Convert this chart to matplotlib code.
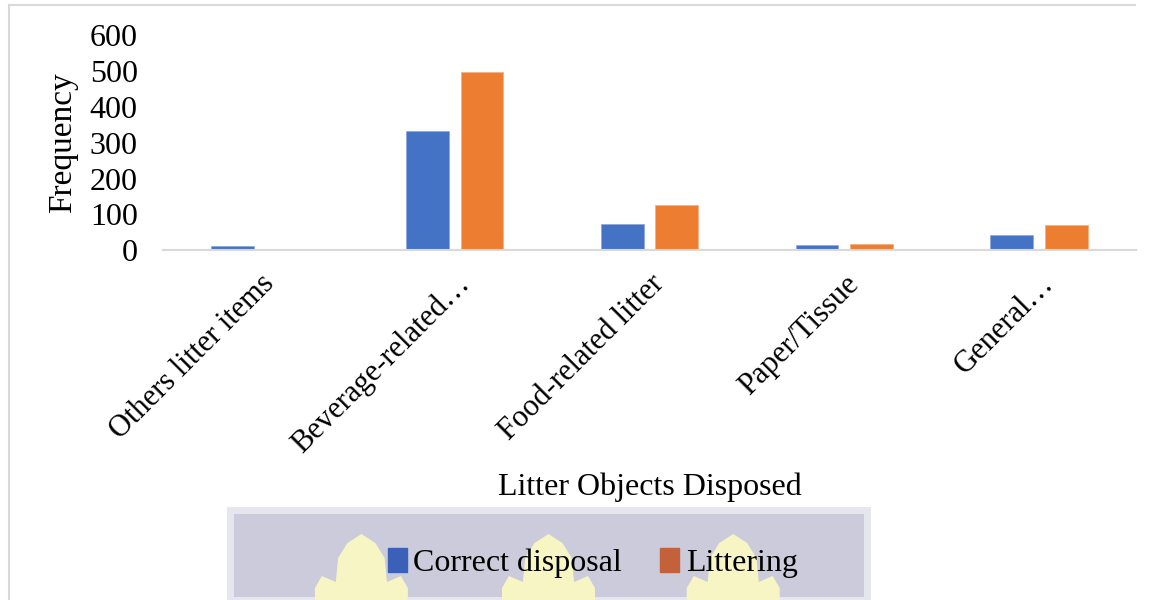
import matplotlib.pyplot as plt
import numpy as np
from matplotlib.patches import Rectangle, Polygon
from matplotlib.lines import Line2D

categories = ["Others litter items", "Beverage-related\u2026", "Food-related litter",
              "Paper/Tissue", "General\u2026"]
correct_disposal = [12, 333, 73, 15, 42]
littering = [3, 498, 125, 16, 70]

plt.rcParams['font.family'] = ['Liberation Serif', 'DejaVu Serif']

fig = plt.figure(figsize=(11.62, 6.0), dpi=100)
ax = fig.add_axes([0.140, 0.583, 0.838, 0.358])

x = np.arange(len(categories))
w = 0.22
ax.bar(x - 0.14, correct_disposal, w, color='#4472C4', edgecolor='#8faadc', linewidth=0.6)
ax.bar(x + 0.14, littering, w, color='#ED7D31', edgecolor='#f4b183', linewidth=0.6)

ax.set_xlim(-0.5, len(categories) - 0.5)
ax.set_ylim(0, 600)
ax.set_yticks(range(0, 601, 100))
ax.tick_params(axis='y', length=0, labelsize=23, pad=18)
ax.tick_params(axis='x', length=0, labelsize=22, pad=14)
ax.set_xticks(x)
ax.set_xticklabels(categories, rotation=45, ha='right', rotation_mode='anchor')
for s in ['top', 'right', 'left']:
    ax.spines[s].set_visible(False)
ax.spines['bottom'].set_color('#d9d9d9')
ax.spines['bottom'].set_linewidth(1.5)
ax.set_ylabel('Frequency', fontsize=24, labelpad=8)
fig.text(0.559, 0.188, 'Litter Objects Disposed', fontsize=23, ha='center', va='center')

# outer frame of the chart area
fig.add_artist(Line2D([0.008, 0.977], [0.992, 0.992], color='#d9d9d9', lw=1.5))
fig.add_artist(Line2D([0.008, 0.008], [0.0, 0.992], color='#d9d9d9', lw=1.5))

# shaded band behind the legend with pale yellow shapes
fig.add_artist(Rectangle((0.198, 0.0), 0.548, 0.150, transform=fig.transFigure,
                         facecolor='#cbcbdb', edgecolor='#e6e6ee', lw=5, zorder=0))
for cx in [0.311, 0.472, 0.631]:
    pts = [(cx - 0.040, 0.0), (cx - 0.040, 0.020), (cx - 0.034, 0.040), (cx - 0.022, 0.030),
           (cx - 0.020, 0.070), (cx - 0.012, 0.095), (cx, 0.110), (cx + 0.012, 0.095),
           (cx + 0.020, 0.070), (cx + 0.022, 0.030), (cx + 0.034, 0.040), (cx + 0.040, 0.020),
           (cx + 0.040, 0.0)]
    fig.add_artist(Polygon(pts, closed=True, transform=fig.transFigure,
                           facecolor='#f8f5c4', edgecolor='none', zorder=0))

handles = [Rectangle((0, 0), 1, 1, color='#3a60b8'), Rectangle((0, 0), 1, 1, color='#c2613a')]
fig.legend(handles, ['Correct disposal', 'Littering'], loc='center', bbox_to_anchor=(0.510, 0.062),
           ncol=2, frameon=False, fontsize=23, handlelength=0.6, handleheight=0.8,
           handletextpad=0.2, columnspacing=1.2)

fig.savefig('out.png', dpi=100)
